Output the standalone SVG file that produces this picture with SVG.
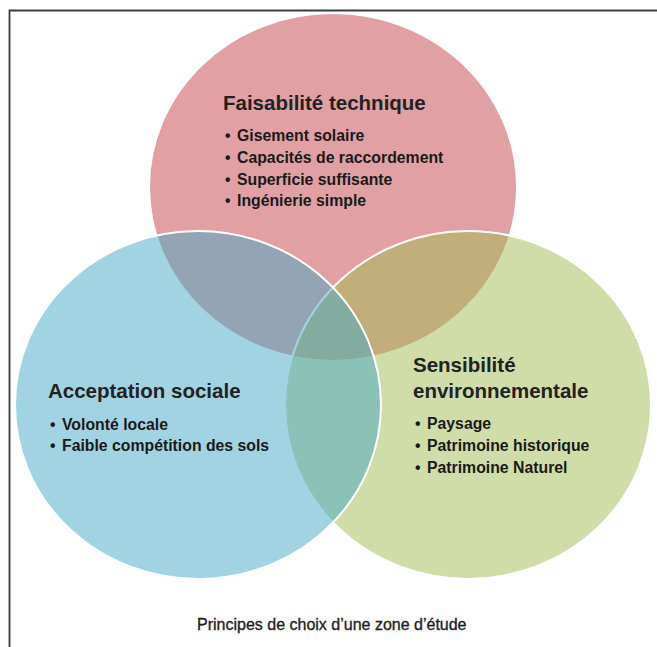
<svg xmlns="http://www.w3.org/2000/svg" width="657" height="647" viewBox="0 0 657 647">
  <style>
    .set { fill-opacity: 0.5; stroke: #ffffff; stroke-width: 2; }
    .head { font-family: "Liberation Sans", Arial, sans-serif; font-weight: bold; font-size: 20.5px; fill: #222222; }
    .item { font-family: "Liberation Sans", Arial, sans-serif; font-weight: bold; font-size: 15.8px; fill: #1a1a1a; }
    .caption { font-family: "Liberation Sans", Arial, sans-serif; font-size: 16px; fill: #1e1e1e; stroke: #1e1e1e; stroke-width: 0.35; }
    .frame { stroke: #3c3c3c; stroke-width: 1.8; fill: none; }
  </style>

  <rect width="657" height="647" fill="#ffffff"/>

  <!-- page frame: top and left rules -->
  <path class="frame" d="M9.5 647 V10.5 H657"/>

  <!-- set: technical feasibility -->
  <g id="faisabilite">
    <ellipse class="set" cx="333" cy="187" rx="184" ry="174" fill="#c1414a"/>
    <text class="head" x="223" y="110">Faisabilité technique</text>
    <text class="item" y="141"><tspan x="225">•</tspan><tspan x="237">Gisement solaire</tspan></text>
    <text class="item" y="163"><tspan x="225">•</tspan><tspan x="237">Capacités de raccordement</tspan></text>
    <text class="item" y="185"><tspan x="225">•</tspan><tspan x="237">Superficie suffisante</tspan></text>
    <text class="item" y="206"><tspan x="225">•</tspan><tspan x="237">Ingénierie simple</tspan></text>
  </g>

  <!-- set: environmental sensitivity -->
  <g id="sensibilite">
    <ellipse class="set" cx="468" cy="405" rx="183" ry="174" fill="#a1bb51"/>
    <text class="head" x="413" y="372">Sensibilité</text>
    <text class="head" x="413" y="398">environnementale</text>
    <text class="item" y="429"><tspan x="415">•</tspan><tspan x="427">Paysage</tspan></text>
    <text class="item" y="451"><tspan x="415">•</tspan><tspan x="427">Patrimoine historique</tspan></text>
    <text class="item" y="473"><tspan x="415">•</tspan><tspan x="427">Patrimoine Naturel</tspan></text>
  </g>

  <!-- set: social acceptance -->
  <g id="acceptation">
    <ellipse class="set" cx="198" cy="405" rx="183" ry="174" fill="#45a7c5"/>
    <text class="head" x="48" y="398">Acceptation sociale</text>
    <text class="item" y="430"><tspan x="50">•</tspan><tspan x="62">Volonté locale</tspan></text>
    <text class="item" y="451"><tspan x="50">•</tspan><tspan x="62">Faible compétition des sols</tspan></text>
  </g>

  <g id="connectors"/>

  <text class="caption" x="197" y="630">Principes de choix d’une zone d’étude</text>
</svg>
